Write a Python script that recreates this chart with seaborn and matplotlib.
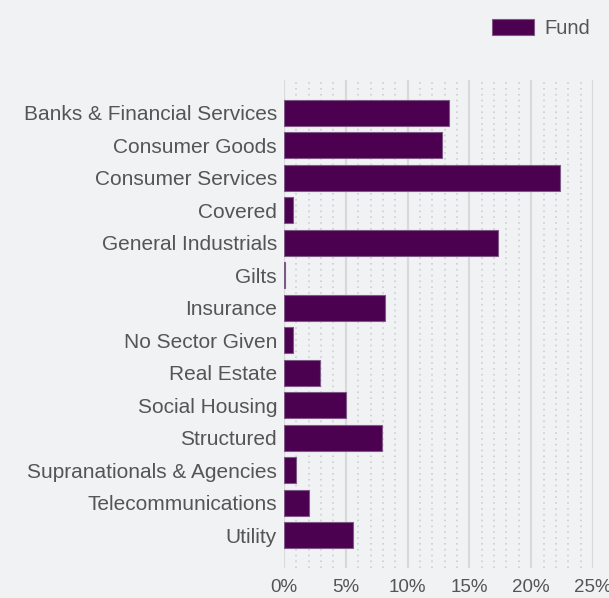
import pandas as pd
import matplotlib.pyplot as plt
import seaborn as sns
from matplotlib.ticker import MultipleLocator, FuncFormatter

# Sector weights (%)
sectors = [
    "Banks & Financial Services", "Consumer Goods", "Consumer Services", "Covered",
    "General Industrials", "Gilts", "Insurance", "No Sector Given", "Real Estate",
    "Social Housing", "Structured", "Supranationals & Agencies", "Telecommunications",
    "Utility",
]
fund = [13.35, 12.75, 22.35, 0.7, 17.35, 0.08, 8.2, 0.75, 2.9, 5.0, 7.95, 1.0, 2.0, 5.55]

df = pd.DataFrame({"sector": sectors, "Fund": fund})

bg = "#f1f2f4"
purple = "#4b0050"

sns.set_theme(style="white")
plt.rcParams["font.family"] = ["Liberation Sans", "DejaVu Sans"]

fig = plt.figure(figsize=(6.09, 5.98), dpi=100, facecolor=bg)
ax = fig.add_axes([284 / 609, 1 - 568 / 598, (593 - 284) / 609, (568 - 80) / 598])
ax.set_facecolor(bg)

sns.barplot(data=df, y="sector", x="Fund", orient="h", color=purple,
            width=0.8, saturation=1, ax=ax, label="Fund", zorder=3,
            edgecolor="#7d5a85", linewidth=0.8)

ax.set_xlim(0, 25)
ax.set_ylim(14, -1)
ax.xaxis.set_major_locator(MultipleLocator(5))
ax.xaxis.set_minor_locator(MultipleLocator(1))
ax.xaxis.set_major_formatter(FuncFormatter(lambda v, p: f"{v:.0f}%"))
ax.grid(axis="x", which="major", color="#d9d9d9", linewidth=1.6, zorder=0)
ax.grid(axis="x", which="minor", color="#cfcfcf", linewidth=1.2,
        linestyle=(0, (1, 2.5)), zorder=0)
ax.set_axisbelow(True)
for s in ax.spines.values():
    s.set_visible(False)
ax.tick_params(axis="both", which="both", length=0, labelcolor="#555555")
ax.tick_params(axis="y", labelsize=15, pad=5)
ax.tick_params(axis="x", labelsize=13.5, pad=8)
ax.set_xlabel("")
ax.set_ylabel("")

leg = fig.legend(*ax.get_legend_handles_labels(), loc="upper right",
                 bbox_to_anchor=(600 / 609, 1 - 9 / 598), frameon=False,
                 borderpad=0, fontsize=14.5, handlelength=2.1, handleheight=0.85,
                 handletextpad=0.5, labelcolor="#555555")
if ax.get_legend():
    ax.get_legend().remove()

fig.savefig("out.png", dpi=100, facecolor=bg)
